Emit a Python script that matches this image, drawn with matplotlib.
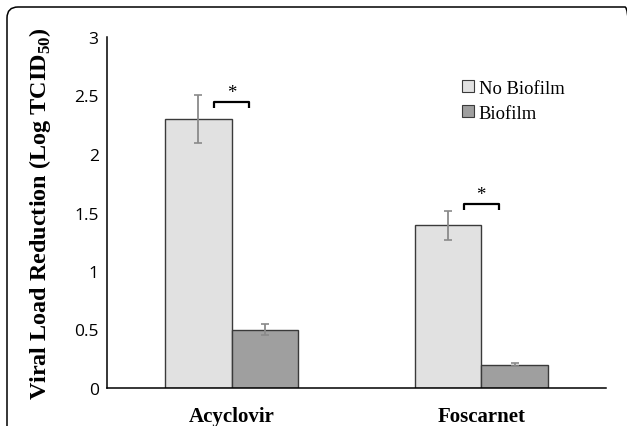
import matplotlib
matplotlib.use("Agg")
import matplotlib.pyplot as plt
from matplotlib.patches import FancyBboxPatch, Patch
import numpy as np

plt.rcParams["mathtext.fontset"] = "custom"
plt.rcParams["mathtext.rm"] = "Liberation Serif"
plt.rcParams["mathtext.bf"] = "Liberation Serif:bold"

categories = ["Acyclovir", "Foscarnet"]
series_names = ["No Biofilm", "Biofilm"]
no_biofilm = [2.30, 1.39]
no_biofilm_err = [0.205, 0.125]
biofilm = [0.50, 0.20]
biofilm_err = [0.05, 0.015]
yticks = [0, 0.5, 1, 1.5, 2, 2.5, 3]
ytick_labels = ["0", "0.5", "1", "1.5", "2", "2.5", "3"]
sig_tops = [2.447, 1.573]
sig_drop = 0.055

light = "#e1e1e1"
dark = "#9f9f9f"

fig = plt.figure(figsize=(6.27, 4.27), dpi=100)
ax = fig.add_axes([107/627, 1-389/427, 499/627, 351/427])

x = np.arange(len(categories))
w = 0.267
ax.bar(x - w/2, no_biofilm, w, color=light, edgecolor="#3a3a3a", linewidth=1.0, zorder=2)
ax.bar(x + w/2, biofilm, w, color=dark, edgecolor="#3a3a3a", linewidth=1.0, zorder=2)
ekw = dict(fmt="none", ecolor="#8a8a8a", elinewidth=1.3, capsize=3, capthick=1.2, zorder=3)
ax.errorbar(x - w/2, no_biofilm, yerr=no_biofilm_err, **ekw)
ax.errorbar(x + w/2, biofilm, yerr=biofilm_err, **ekw)

for xi, top in zip(x, sig_tops):
    ax.plot([xi - 0.07, xi - 0.07, xi + 0.07, xi + 0.07],
            [top - sig_drop, top, top, top - sig_drop],
            color="black", lw=1.6, solid_capstyle="butt", zorder=3)
    ax.text(xi, top + 0.005, "*", ha="center", va="bottom",
            fontsize=13.5, family="Liberation Serif")

ax.set_xlim(-0.5, 1.5)
ax.set_ylim(0, 3)
ax.set_yticks(yticks)
ax.set_yticklabels(ytick_labels, fontsize=12.5, family="Open Sans")
ax.set_xticks(x)
ax.set_xticklabels(categories, fontsize=15, family="Liberation Serif", fontweight="bold")
ax.tick_params(axis="y", length=0, pad=6)
ax.tick_params(axis="x", length=0, pad=13)
for s in ["top", "right"]:
    ax.spines[s].set_visible(False)
for s in ["left", "bottom"]:
    ax.spines[s].set_linewidth(1.1)
    ax.spines[s].set_color("black")

ax.set_ylabel("Viral Load Reduction (Log TCID$_{\\mathbf{50}}$)", fontsize=17.4,
              family="Liberation Serif", fontweight="bold")
ax.yaxis.set_label_coords(-0.108, 0.5)

handles = [Patch(facecolor=light, edgecolor="#3a3a3a", linewidth=0.8),
           Patch(facecolor=dark, edgecolor="#3a3a3a", linewidth=0.8)]
ax.legend(handles, series_names, loc="upper left", bbox_to_anchor=(0.711, 0.878),
          frameon=False, prop={"family": "Liberation Serif", "size": 13.4},
          handlelength=0.65, handleheight=0.65, handletextpad=0.25,
          labelspacing=0.42, borderpad=0, borderaxespad=0)

border = FancyBboxPatch((7, -30), 629, 449, boxstyle="round,pad=0,rounding_size=11",
                        transform=None, facecolor="none", edgecolor="black",
                        linewidth=1.1, clip_on=False)
fig.patches.append(border)

fig.savefig("out.png", dpi=100)
